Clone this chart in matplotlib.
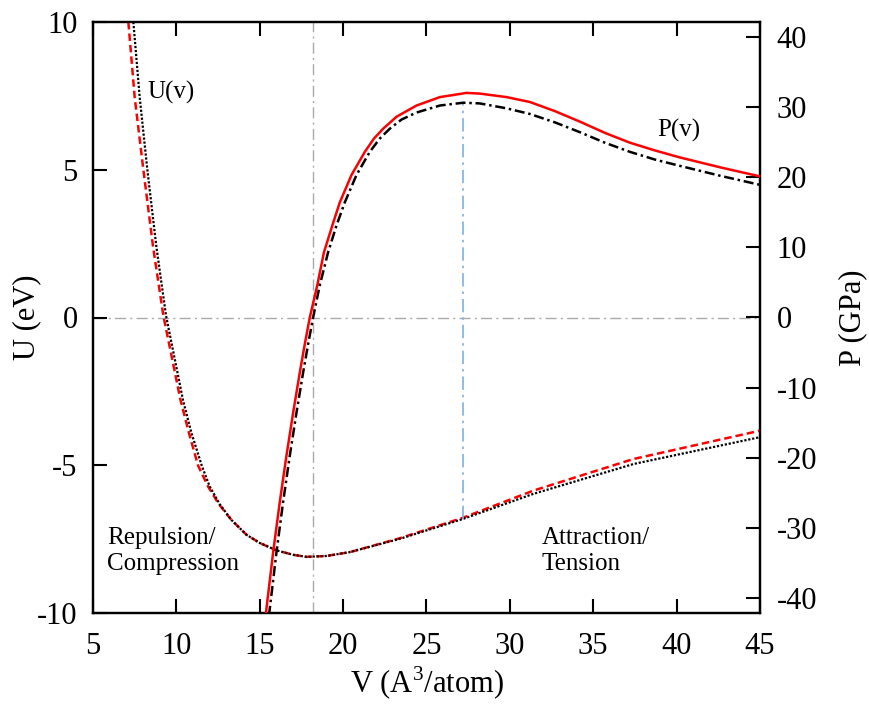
import numpy as np
import matplotlib
matplotlib.use("Agg")
import matplotlib.pyplot as plt

plt.rcParams['font.family'] = ['Liberation Serif', 'DejaVu Serif']
plt.rcParams['mathtext.fontset'] = 'custom'
plt.rcParams['mathtext.rm'] = 'Liberation Serif'
plt.rcParams['axes.unicode_minus'] = False

# energy U(v), eV
v_U_black = [7.42, 7.8, 8.26, 8.8, 9.38, 10.4, 10.9, 11.52, 12.0, 12.6, 13.3, 14.2, 15.0,
             16.0, 17.0, 17.8, 19.0, 20.4, 23.4, 27.17, 31.4, 37.4, 45.0]
U_black = [10.0, 7.45, 5.0, 2.4, 0.06, -2.8, -3.9, -5.01, -5.72, -6.32, -6.85, -7.35, -7.63,
           -7.88, -8.03, -8.10, -8.07, -7.94, -7.49, -6.82, -5.97, -4.96, -4.05]
v_U_red = [7.12, 7.5, 8.02, 8.6, 9.22, 10.25, 10.75, 11.3, 11.9, 12.55, 13.3, 14.2, 15.0,
           16.0, 17.0, 17.8, 19.0, 20.4, 23.4, 27.17, 31.4, 37.4, 45.0]
U_red = [10.0, 7.45, 5.0, 2.4, 0.06, -2.8, -3.9, -5.01, -5.72, -6.32, -6.85, -7.35, -7.63,
         -7.88, -8.03, -8.10, -8.07, -7.94, -7.47, -6.78, -5.86, -4.79, -3.83]

# pressure P(v), GPa
v_P_black = [15.55, 16.0, 16.4, 16.8, 17.2, 17.6, 17.9, 18.2, 18.6, 19.1, 19.6, 20.1, 20.8,
             21.6, 22.2, 22.8, 23.5, 24.4, 25.8, 27.2, 28.2, 29.8, 31.2, 32.7, 34.2, 35.7,
             37.2, 38.7, 40.2, 42.6, 45.0]
P_black = [-42.5, -33.5, -26.3, -19.7, -13.6, -7.85, -3.8, 0.0, 4.6, 9.3, 13.1, 16.4, 20.3,
           23.6, 25.5, 26.9, 28.2, 29.2, 30.2, 30.6, 30.5, 29.8, 29.0, 27.8, 26.4, 24.9,
           23.6, 22.5, 21.6, 20.2, 18.9]
v_P_red = [15.35, 15.8, 16.2, 16.6, 17.0, 17.4, 17.7, 18.0, 18.45, 18.85, 19.35, 19.8, 20.5,
           21.3, 21.85, 22.4, 23.2, 24.4, 25.8, 27.4, 28.2, 29.8, 31.2, 32.7, 34.2, 35.7,
           37.2, 38.7, 40.2, 42.6, 45.0]
P_red = [-42.5, -33.5, -26.3, -19.7, -13.6, -7.85, -3.8, 0.0, 4.6, 9.3, 13.1, 16.4, 20.3,
         23.6, 25.5, 26.9, 28.6, 30.2, 31.4, 32.0, 31.9, 31.4, 30.7, 29.4, 27.9, 26.3,
         24.9, 23.8, 22.8, 21.4, 20.1]

v_eq = 18.2      # equilibrium volume
v_spin = 27.2    # max of P
U_lim = 10.0
P_lim = 42.1

fig = plt.figure(figsize=(8.7, 7.23), dpi=100)
ax = fig.add_axes([93/870, 1-613/723, (760-93)/870, (613-22)/723])
ax2 = ax.twinx()

# guide lines
ax.axhline(0, color='#aaaaaa', lw=1.0, ls=(0, (8, 3, 1.5, 3)), zorder=1)
ax.axvline(v_eq, color='#aaaaaa', lw=1.0, ls=(0, (8, 3, 1.5, 3)), zorder=1)
u_low = np.interp(v_spin, v_U_black, U_black) * P_lim / U_lim
ax2.plot([v_spin, v_spin], [u_low, max(P_black)], color='#7fb0e0', lw=1.2,
         ls=(0, (8, 3, 1.5, 3)), zorder=1)

ax.plot(v_U_red, U_red, color='red', lw=1.8, ls=(0, (3, 1.6)), zorder=3)
ax.plot(v_U_black, U_black, color='black', lw=1.6, ls=(0, (1, 0.8)), zorder=4)
ax2.plot(v_P_red, P_red, color='red', lw=1.8, ls='-', zorder=3)
ax2.plot(v_P_black, P_black, color='black', lw=1.8, ls=(0, (4, 1.5, 1, 1.5)), zorder=4)

ax.set_xlim(5, 45)
ax.set_ylim(-U_lim, U_lim)
ax2.set_ylim(-P_lim, P_lim)
ax.set_xticks(np.arange(5, 46, 5))
ax.set_yticks([-10, -5, 0, 5, 10])
ax2.set_yticks(np.arange(-40, 41, 10))

ax.tick_params(axis='x', direction='in', length=10, width=1.5, labelsize=22, pad=14,
               top=True)
ax.tick_params(axis='y', direction='in', length=10, width=1.5, labelsize=22, pad=11,
               right=False)
ax2.tick_params(axis='y', direction='in', length=10, width=1.5, labelsize=22, pad=12)
for a in (ax, ax2):
    for s in a.spines.values():
        s.set_linewidth(1.6)

ax.set_xlabel(r'V (A$^{\mathrm{3}}$/atom)', fontsize=22)
ax.set_ylabel('U (eV)', fontsize=22)
ax2.set_ylabel('P (GPa)', fontsize=22)
ax.xaxis.set_label_coords(0.5, -0.088)
ax.yaxis.set_label_coords(-0.077, 0.5)
ax2.yaxis.set_label_coords(1.118, 0.5)

ax.text(9.7, 7.6, 'U(v)', fontsize=18, ha='center', va='center')
ax2.text(40.1, 26.6, 'P(v)', fontsize=18, ha='center', va='center')
ax.text(5.85, -7.9, 'Repulsion/\nCompression', fontsize=18, ha='left', va='center',
        linespacing=1.2)
ax.text(31.9, -7.9, 'Attraction/\nTension', fontsize=18, ha='left', va='center',
        linespacing=1.2)

fig.savefig('out.png', dpi=100)
